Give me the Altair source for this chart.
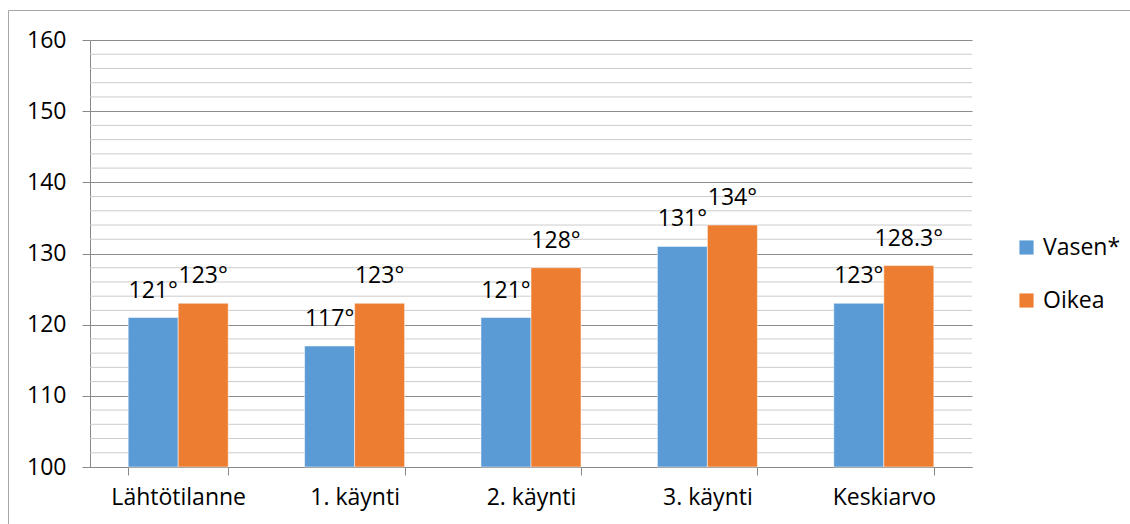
import altair as alt
import pandas as pd

categories = ["Lähtötilanne", "1. käynti", "2. käynti", "3. käynti", "Keskiarvo"]
series_names = ["Vasen*", "Oikea"]
vasen = [121, 117, 121, 131, 123]
oikea = [123, 123, 128, 134, 128.3]
colors = ["#5B9BD5", "#ED7D31"]
major_ticks = [100, 110, 120, 130, 140, 150, 160]
minor_ticks = [v for v in range(102, 160, 2) if v % 10 != 0]

rows = []
for i, c in enumerate(categories):
    rows.append({"category": c, "series": series_names[0], "value": vasen[i]})
    rows.append({"category": c, "series": series_names[1], "value": oikea[i]})
df = pd.DataFrame(rows)
df["label"] = [("%g" % v) + "°" for v in df["value"]]

FONT = "Open Sans"
FS = 23

yscale = alt.Scale(domain=[100, 160], nice=False, zero=False)
xscale = alt.Scale(paddingInner=0.433, paddingOuter=0.2165)

x_enc = alt.X(
    "category:N",
    sort=categories,
    scale=xscale,
    axis=alt.Axis(
        title=None,
        labelAngle=0,
        tickBand="extent",
        domainColor="#898989",
        tickColor="#898989",
        tickSize=8,
        labelFont=FONT,
        labelFontSize=FS,
        labelColor="#000000",
        labelPadding=11,
        grid=False,
    ),
)

minor_df = pd.DataFrame({"v": minor_ticks})
minor = alt.Chart(minor_df).mark_rule(color="#cccccc", strokeWidth=1).encode(
    y=alt.Y("v:Q", scale=yscale),
)

bars = alt.Chart(df).mark_bar(stroke="white", strokeWidth=0.5).encode(
    x=x_enc,
    xOffset=alt.XOffset("series:N", sort=series_names, scale=alt.Scale(paddingInner=0, paddingOuter=0)),
    y=alt.Y(
        "value:Q",
        scale=yscale,
        axis=alt.Axis(
            title=None,
            values=major_ticks,
            grid=True,
            gridColor="#8c8c8c",
            domainColor="#898989",
            tickColor="#898989",
            tickSize=8,
            labelFont=FONT,
            labelFontSize=FS,
            labelColor="#000000",
            labelPadding=16,
        ),
    ),
    y2=alt.Y2(datum=100),
    color=alt.Color(
        "series:N",
        scale=alt.Scale(domain=series_names, range=colors),
        title=None,
        legend=alt.Legend(
            orient="none",
            legendX=925,
            legendY=196,
            symbolType="square",
            symbolSize=200,
            symbolStrokeWidth=0,
            labelFont=FONT,
            labelFontSize=FS,
            labelColor="#000000",
            labelOffset=5,
            rowPadding=29,
        ),
    ),
)

labels = alt.Chart(df).mark_text(
    font=FONT, fontSize=FS, color="#000000", baseline="alphabetic", dy=-20
).encode(
    x=alt.X("category:N", sort=categories, scale=xscale),
    xOffset=alt.XOffset("series:N", sort=series_names),
    y=alt.Y("value:Q", scale=yscale),
    text="label:N",
)

frame = alt.Chart(pd.DataFrame({"a": [0]})).mark_rect(
    fill="transparent", stroke="#a6a6a6", strokeWidth=1
).encode(
    x=alt.value(-81.5), x2=alt.value(1200), y=alt.value(-29.5), y2=alt.value(700)
)

chart = (
    alt.layer(frame, minor, bars, labels)
    .properties(
        width=882,
        height=427,
        autosize="none",
        padding={"left": 90, "top": 40, "right": 158, "bottom": 57},
        background="white",
    )
    .configure_view(stroke="transparent")
)

chart.save("out.html", embed_options={"renderer": "svg", "actions": False})
